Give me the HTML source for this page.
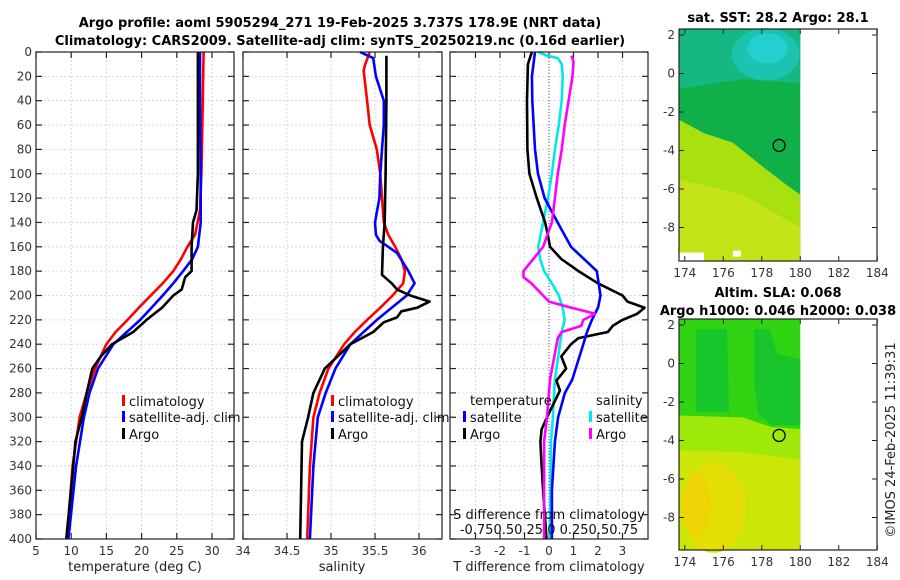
<!DOCTYPE html>
<html><head><meta charset="utf-8"><style>
body{margin:0;background:#fff;}
svg{display:block;font-family:"DejaVu Sans","Liberation Sans",sans-serif;}
.tk{font-size:12px;fill:#333;}
.al{font-size:13px;fill:#222;}
.tt{font-size:13px;font-weight:bold;fill:#000;}
.lg{font-size:13px;fill:#111;}
</style></head><body>
<svg id="root" width="900" height="580" viewBox="0 0 900 580" xmlns="http://www.w3.org/2000/svg">
<text class="tt" x="340" y="27" text-anchor="middle">Argo profile: aoml 5905294_271 19-Feb-2025 3.737S 178.9E (NRT data)</text>
<text class="tt" x="340" y="45" text-anchor="middle">Climatology: CARS2009. Satellite-adj clim: synTS_20250219.nc (0.16d earlier)</text>
<g id="panels"></g>
<g id="maps"></g>
<text class="tt" x="778" y="22" text-anchor="middle">sat. SST: 28.2 Argo: 28.1</text>
<text class="tt" x="778" y="297" text-anchor="middle">Altim. SLA: 0.068</text>
<text class="tt" x="778" y="315" text-anchor="middle">Argo h1000: 0.046 h2000: 0.038</text>
<text class="al" x="0" y="0" transform="translate(895,440) rotate(-90)" text-anchor="middle">©IMOS 24-Feb-2025 11:39:31</text>
</svg>
<script>
// ---- depth axis ----
const depthTicks=[0,20,40,60,80,100,120,140,160,180,200,220,240,260,280,300,320,340,360,380,400];
// ---- panel 1 temperature ----
const tempTicks=[5,10,15,20,25,30];
const climTD=[0,40,100,130,150,160,170,180,190,200,210,220,230,240,260,280,300,340,400];
const climT=[28.8,28.7,28.5,28.3,27.6,26.5,25.6,24.5,23.0,21.3,19.6,18.0,16.3,15.0,13.4,12.2,11.2,10.2,9.4];
const satTD=[0,40,100,140,160,170,180,190,200,210,220,230,240,260,280,300,340,400];
const satT=[28.3,28.3,28.4,28.4,28.0,27.2,25.9,24.5,23.0,21.4,19.8,17.9,16.0,13.8,12.6,11.8,10.7,9.6];
const argoTD=[0,40,100,130,140,160,180,185,195,200,210,220,230,240,250,260,280,300,320,340,400];
const argoT=[28.0,28.0,28.0,27.8,27.3,27.1,27.1,26.2,25.7,24.5,22.9,20.7,18.8,15.8,14.2,13.0,12.2,11.5,10.6,10.3,9.3];
// ---- panel 2 salinity ----
const salTicks=[34,34.5,35,35.5,36];
const salTickLabels=["34","34.5","35","35.5","36"];
const climSD=[0,10,15,40,60,80,100,120,140,150,160,170,180,190,200,210,220,230,240,260,280,300,340,400];
const climS=[35.44,35.39,35.37,35.41,35.44,35.52,35.56,35.58,35.6,35.65,35.73,35.8,35.84,35.82,35.7,35.56,35.41,35.27,35.15,34.97,34.87,34.8,34.76,34.73];
const satSD=[0,5,20,40,60,80,100,120,140,150,155,165,180,190,200,210,220,230,240,260,280,300,340,400];
const satS=[35.33,35.48,35.51,35.6,35.6,35.58,35.56,35.55,35.5,35.51,35.55,35.75,35.88,35.95,35.86,35.69,35.52,35.37,35.22,35.05,34.94,34.85,34.8,34.76];
const argoSD=[3,40,100,140,150,160,183,190,195,200,205,210,213,218,222,230,240,260,280,300,320,400];
const argoS=[35.63,35.63,35.62,35.61,35.6,35.59,35.58,35.69,35.75,35.9,36.12,35.98,35.8,35.75,35.6,35.48,35.22,34.93,34.8,34.74,34.67,34.65];
// ---- panel 3 differences ----
const tdiffTicks=[-3,-2,-1,0,1,2,3];
const sdiffLabel="-0.750.50.25 0 0.250.50.75";
const dTargoD=[0,10,40,80,100,120,140,150,160,170,180,190,200,205,210,215,220,225,230,235,240,250,260,270,278,290,300,310,320,340,360,400];
const dTargo=[-0.7,-0.86,-0.9,-0.88,-0.8,-0.5,-0.16,-0.05,0.04,0.5,1.2,2.0,3.0,3.2,3.9,3.6,3.0,2.6,2.4,1.2,0.9,0.5,0.7,0.3,0.45,0.16,-0.08,-0.3,-0.35,-0.3,-0.24,-0.1];
const dTsatD=[0,20,40,80,100,120,140,160,180,200,210,220,230,240,269,280,300,320,360,400];
const dTsat=[-0.57,-0.7,-0.68,-0.57,-0.45,-0.18,0.35,0.9,1.95,2.1,2.0,1.75,1.55,1.4,0.95,0.65,0.37,0.24,0.12,0.12];
const dSsatD=[0,3,5,10,20,40,60,80,100,120,140,160,170,180,190,200,210,220,230,269,300,320,400];
const dSsat=[-0.11,-0.02,0.09,0.13,0.14,0.13,0.1,0.06,0.03,-0.01,-0.06,-0.11,-0.09,-0.05,0.03,0.1,0.14,0.16,0.13,0.06,0.04,0.02,0.01];
const dSargoD=[3,8,20,40,60,80,100,120,140,160,170,180,185,190,200,205,210,215,220,225,230,235,269,290,300,320,400];
const dSargo=[0.23,0.25,0.24,0.2,0.16,0.13,0.09,0.06,0.03,-0.06,-0.16,-0.26,-0.26,-0.18,-0.06,0.0,0.23,0.47,0.35,0.33,0.13,0.09,0.01,-0.01,-0.02,-0.05,-0.05];
// ---- map axes ----
const lonTicks=[174,176,178,180,182,184];
const latTicks=[2,0,-2,-4,-6,-8];
const argoLon=178.9, argoLat=-3.737;

const NS="http://www.w3.org/2000/svg";
function mk(tag,attrs,parent){const e=document.createElementNS(NS,tag);for(const k in attrs)e.setAttribute(k,attrs[k]);parent.appendChild(e);return e;}
const Y0=52,Y1=539;
const yD=d=>Y0+(Y1-Y0)*d/400;
const panelsG=document.getElementById('panels');

function panel(name,x0,x1,xs,ticks,labels,showY){
  const g=mk('g',{},panelsG);
  
  
  const grid=mk('g',{stroke:'#c8d0ee','stroke-width':0.8,'stroke-dasharray':'2,2'},g);
  
  
  depthTicks.forEach(d=>{mk('line',{x1:x0,x2:x1,y1:yD(d),y2:yD(d)},grid);});
  ticks.forEach(v=>{const x=xs(v);if(x>x0+1&&x<x1-1)mk('line',{x1:x,x2:x,y1:Y0,y2:Y1},grid);});
  const ax=mk('g',{stroke:'#222','stroke-width':1.2},g);
  depthTicks.forEach(d=>{mk('line',{x1:x0,x2:x0+6,y1:yD(d),y2:yD(d)},ax);mk('line',{x1:x1-6,x2:x1,y1:yD(d),y2:yD(d)},ax);});
  ticks.forEach(v=>{const x=xs(v);mk('line',{x1:x,x2:x,y1:Y1,y2:Y1-6},ax);mk('line',{x1:x,x2:x,y1:Y0,y2:Y0+6},ax);});
  ticks.forEach((v,i)=>{const t=mk('text',{x:xs(v),y:Y1+16,'text-anchor':'middle',class:'tk'},g);t.textContent=labels[i];
    
    });
  if(showY){depthTicks.forEach(d=>{const t=mk('text',{x:x0-4,y:yD(d)+4,'text-anchor':'end',class:'tk'},g);t.textContent=d;
    
    });}
  return {g,x0,x1,xs};
}
function frame(p){const r=mk('rect',{x:p.x0,y:Y0,width:p.x1-p.x0,height:Y1-Y0,fill:'none',stroke:'#222','stroke-width':1.2},p.g);
  
  }
function line(p,D,V,xs,color,name){
  const pts=D.map((d,i)=>xs(V[i]).toFixed(1)+','+yD(d).toFixed(1)).join(' ');
  const l=mk('polyline',{points:pts,fill:'none',stroke:color,'stroke-width':2.6,'stroke-linejoin':'round'},p.g);
  
  
}
function legend(g,x,y,color,label){
  const r=mk('rect',{x:x,y:y-6,width:3,height:11,fill:color},g);
  
  
  const t=mk('text',{x:x+7,y:y+5,class:'lg'},g);t.textContent=label;
  
  
}
function axisLabel(x,y,txt,name){const t=mk('text',{x:x,y:y,'text-anchor':'middle',class:'al'},panelsG);t.textContent=txt;
  
  }

// panel 1
const xT=v=>36+(v-5)*7.04;
const p1=panel('temperature-panel',36,234,xT,tempTicks,tempTicks.map(String),true);
line(p1,climTD,climT,xT,'#ff0000','climatology-temp-line');
line(p1,satTD,satT,xT,'#0000ff','satellite-temp-line');
line(p1,argoTD,argoT,xT,'#000000','argo-temp-line');
legend(p1.g,122,401,'#ff0000','climatology');
legend(p1.g,122,417,'#0000ff','satellite-adj. clim');
legend(p1.g,122,434,'#000000','Argo');
frame(p1);
axisLabel(135,571,'temperature (deg C)','temperature-axis-title');

// panel 2
const xS=v=>243+(v-34)*88;
const p2=panel('salinity-panel',243,442,xS,salTicks,salTickLabels,false);
line(p2,climSD,climS,xS,'#ff0000','climatology-salinity-line');
line(p2,satSD,satS,xS,'#0000ff','satellite-salinity-line');
line(p2,argoSD,argoS,xS,'#000000','argo-salinity-line');
legend(p2.g,331,401,'#ff0000','climatology');
legend(p2.g,331,417,'#0000ff','satellite-adj. clim');
legend(p2.g,331,434,'#000000','Argo');
frame(p2);
axisLabel(342,571,'salinity','salinity-axis-title');

// panel 3
const xdT=v=>549+v*24.5;
const xdS=v=>549+v*98;
const p3=panel('difference-panel',450,648,xdT,tdiffTicks,tdiffTicks.map(String),false);
const zl=mk('line',{x1:549,x2:549,y1:Y0,y2:Y1,stroke:'#555','stroke-width':1,'stroke-dasharray':'1,2'},p3.g);


line(p3,dSsatD,dSsat,xdS,'#00e8e8','satellite-salinity-diff-line');
line(p3,dTargoD,dTargo,xdT,'#000000','argo-temp-diff-line');
line(p3,dTsatD,dTsat,xdT,'#0000ff','satellite-temp-diff-line');
line(p3,dSargoD,dSargo,xdS,'#ff00ff','argo-salinity-diff-line');
{const t=mk('text',{x:470,y:405,class:'lg'},p3.g);t.textContent='temperature';


const s=mk('text',{x:596,y:405,class:'lg'},p3.g);s.textContent='salinity';

}
legend(p3.g,463,417,'#0000ff','satellite');
legend(p3.g,463,434,'#000000','Argo');
legend(p3.g,589,417,'#00e8e8','satellite');
legend(p3.g,589,434,'#ff00ff','Argo');
{const t=mk('text',{x:549,y:519,'text-anchor':'middle',class:'lg'},p3.g);t.textContent='S difference from climatology';


const s=mk('text',{x:549,y:534,'text-anchor':'middle',class:'lg'},p3.g);s.textContent=sdiffLabel;

}
frame(p3);
axisLabel(549,571,'T difference from climatology','temp-diff-axis-title');

// ---- maps ----
const mapsG=document.getElementById('maps');
function map(name,top,bottom,lat2y,fills){
  const g=mk('g',{},mapsG);
  
  
  const L=679,R=877;
  const lx=lon=>679+(lon-173.7)*19.25;
  const ly=lat=>lat2y+(2-lat)*19.25;
  fills(g,lx,ly,top,bottom);
  const c=mk('circle',{cx:lx(argoLon),cy:ly(argoLat),r:6,fill:'none',stroke:'#000','stroke-width':1.3},g);
  
  
  const f=mk('rect',{x:L,y:top,width:R-L,height:bottom-top,fill:'none',stroke:'#222','stroke-width':1.2},g);
  
  
  lonTicks.forEach(v=>{const x=lx(v);mk('line',{x1:x,x2:x,y1:bottom,y2:bottom-5,stroke:'#222'},g);mk('line',{x1:x,x2:x,y1:top,y2:top+5,stroke:'#222'},g);
    const t=mk('text',{x:x,y:bottom+16,'text-anchor':'middle',class:'tk'},g);t.textContent=v;
    
    });
  latTicks.forEach(v=>{const y=ly(v);mk('line',{x1:L,x2:L+5,y1:y,y2:y,stroke:'#222'},g);mk('line',{x1:R-5,x2:R,y1:y,y2:y,stroke:'#222'},g);
    const t=mk('text',{x:L-4,y:y+4,'text-anchor':'end',class:'tk'},g);t.textContent=v;
    
    });
}
map('sst-map',29,261,35,(g,lx,ly,top,bot)=>{
  const x0=679,x1=lx(180);
  mk('rect',{x:x0,y:top,width:x1-x0,height:bot-top,fill:'#10b048'},g);
  mk('polygon',{points:`${x0},${top} ${x1},${top} ${x1},${ly(-0.5)} ${lx(177)},${ly(-0.3)} ${x0},${ly(-0.8)}`,fill:'#14b880'},g);
  mk('ellipse',{cx:lx(178.2),cy:ly(1.0),rx:34,ry:26,fill:'#1cc4b0'},g);
  mk('ellipse',{cx:lx(178.3),cy:ly(1.3),rx:20,ry:15,fill:'#22d0d0'},g);
  mk('polygon',{points:`${x0},${ly(-2.4)} ${lx(175)},${ly(-3.1)} ${lx(176.5)},${ly(-3.6)} ${lx(178)},${ly(-4.8)} ${lx(179.3)},${ly(-5.8)} ${x1},${ly(-6.3)} ${x1},${bot} ${x0},${bot}`,fill:'#a8e010'},g);
  mk('polygon',{points:`${x0},${ly(-5.5)} ${lx(177)},${ly(-6.3)} ${x1},${ly(-8)} ${x1},${bot} ${x0},${bot}`,fill:'#c4e418'},g);
  mk('rect',{x:x0,y:ly(-9.3),width:25,height:bot-ly(-9.3),fill:'#fff'},g);
  mk('rect',{x:lx(176.5),y:ly(-9.2),width:8,height:6,fill:'#fff'},g);
});
map('sla-map',319,550,325,(g,lx,ly,top,bot)=>{
  const x0=679,x1=lx(180);
  mk('rect',{x:x0,y:top,width:x1-x0,height:bot-top,fill:'#30d412'},g);
  mk('polygon',{points:`${lx(174.6)},${ly(1.8)} ${lx(176.2)},${ly(1.8)} ${lx(176.3)},${ly(-2.5)} ${lx(174.6)},${ly(-2.5)}`,fill:'#18c62c'},g);
  mk('polygon',{points:`${lx(177.6)},${ly(1.8)} ${lx(178.4)},${ly(1.8)} ${lx(178.8)},${ly(0.5)} ${x1},${ly(0.2)} ${x1},${ly(-3.2)} ${lx(178.5)},${ly(-3.2)} ${lx(177.8)},${ly(-2.6)} ${lx(177.6)},${ly(-1)}`,fill:'#18c62c'},g);
  mk('polygon',{points:`${x0},${ly(-2.7)} ${lx(177)},${ly(-2.8)} ${lx(178.5)},${ly(-3.3)} ${x1},${ly(-3.4)} ${x1},${bot} ${x0},${bot}`,fill:'#9ee80a'},g);
  mk('polygon',{points:`${x0},${ly(-4.5)} ${lx(177)},${ly(-4.6)} ${x1},${ly(-5)} ${x1},${bot} ${x0},${bot}`,fill:'#cce608'},g);
  mk('ellipse',{cx:lx(175.5),cy:ly(-7.5),rx:32,ry:45,fill:'#e4de06'},g);
  mk('ellipse',{cx:lx(174.6),cy:ly(-7.3),rx:14,ry:30,fill:'#eed404'},g);
});
</script>
</body></html>
